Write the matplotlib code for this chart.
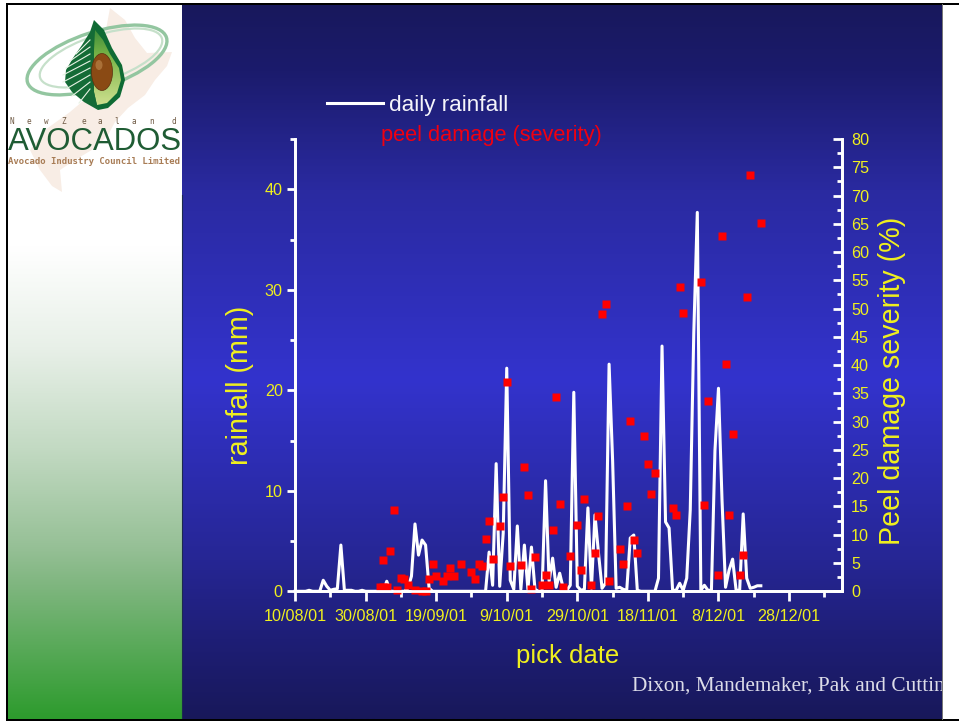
import numpy as np
import matplotlib
matplotlib.use('Agg')
import matplotlib.pyplot as plt
from matplotlib.colors import LinearSegmentedColormap
from matplotlib.patches import Ellipse, Polygon, Rectangle
from matplotlib.ticker import MultipleLocator

plt.rcParams['font.family'] = ['Liberation Sans', 'DejaVu Sans']

W, H = 959, 721
YELLOW = '#f0f01e'

# daily rainfall (mm), one value per day starting 10/08/01
rain_mm = [0, 0, 0, 0, 0.1, 0, 0, 0, 1.1, 0.5, 0.1, 0.2, 0.25, 4.6, 0.1, 0.1, 0.1, 0, 0, 0.1,
           0, 0, 0, 0, 0, 0, 1.0, 0, 0, 0, 0, 0, 0.3, 1.5, 6.7, 3.6, 5.1, 4.6, 0.3, 0,
           0, 0, 0, 0, 0, 0, 0, 0, 0, 0, 0, 0, 0, 0, 0, 3.9, 0.6, 12.7, 0.5, 5.8,
           22.2, 1.1, 0.2, 6.5, 0.2, 4.6, 0.2, 4.4, 0.2, 0, 0, 11.0, 1.0, 3.3, 0.4, 1.8, 0.3, 0.1, 0.6, 19.8,
           0.5, 0.1, 0.2, 8.3, 0.3, 7.6, 3.8, 0.3, 0.8, 22.6, 13.0, 0.3, 0.4, 0.2, 0.1, 5.3, 5.6, 0.1, 0, 0,
           0, 0, 0, 1.3, 24.4, 6.9, 6.3, 0.1, 0.1, 0.8, 0.1, 1.3, 8.1, 25.7, 37.7, 0.1, 0.6, 0.1, 0.1, 14.0,
           20.2, 9.1, 0.4, 2.1, 3.2, 0.1, 0.1, 7.7, 1.3, 0.3, 0.4, 0.55, 0.55]

# peel damage samples: pick day (days after 10/08/01) and severity (%)
peel_day = [24, 25, 26, 25, 27, 28, 29, 30, 31, 32, 34, 36, 37, 38, 39, 40, 42, 43, 44, 45, 47,
            50, 51, 52, 53, 54, 55, 56, 58, 59, 60, 61, 64, 65, 66, 67, 68, 70, 71, 72, 73, 74,
            75, 76, 78, 80, 81, 82, 84, 85, 86, 87, 88, 89, 92, 93, 94, 95, 96, 97, 99, 100,
            101, 102, 107, 108, 109, 110, 115, 116, 117, 120, 121, 122, 123, 124, 126, 127,
            128, 129, 132]
peel_pct = [0.8, 0.8, 0.8, 5.5, 7.2, 14.4, 0.3, 2.4, 2.1, 1.2, 0.3, 0, 0, 2.1, 4.8, 2.7, 1.9, 2.7,
            4.2, 2.7, 4.8, 3.4, 2.1, 4.8, 4.5, 9.2, 12.4, 5.8, 11.5, 16.6, 37.1, 4.4, 4.7, 21.9,
            17.1, 0.4, 6.1, 1.2, 2.9, 1.1, 10.8, 34.3, 15.4, 0.8, 6.2, 11.8, 3.7, 16.4, 1.2, 6.7,
            13.3, 49.0, 50.9, 1.9, 7.4, 4.8, 15.0, 30.1, 9.0, 6.7, 27.4, 22.6, 17.2, 21.0, 14.7,
            13.5, 53.8, 49.3, 54.7, 15.3, 33.7, 2.8, 62.8, 40.2, 13.5, 27.8, 2.9, 6.4, 52.0, 73.6,
            65.1]

date_labels = ['10/08/01', '30/08/01', '19/09/01', '9/10/01', '29/10/01', '18/11/01', '8/12/01', '28/12/01']


def px_gradient(stops):
    # stops = (pixel row, rgb)
    span = stops[-1][0] - stops[0][0]
    return LinearSegmentedColormap.from_list(
        'g', [((y - stops[0][0]) / span, np.array(c) / 255) for y, c in stops], N=512)


fig = plt.figure(figsize=(W / 100, H / 100), dpi=100, facecolor='white')

# slide background, drawn in pixel coordinates
bg = fig.add_axes([0, 0, 1, 1])
grad = np.linspace(0, 1, 512).reshape(-1, 1)
blue = px_gradient([(4, (24, 24, 92)), (70, (27, 27, 108)), (190, (42, 42, 160)), (380, (51, 51, 205)),
                    (560, (38, 38, 148)), (640, (30, 30, 118)), (719, (24, 24, 90))])
green = px_gradient([(4, (255, 255, 255)), (247, (255, 255, 255)), (347, (232, 240, 232)),
                     (447, (195, 218, 195)), (547, (150, 192, 150)), (580, (130, 183, 130)),
                     (718, (45, 155, 45))])
bg.imshow(grad, cmap=blue, extent=(182, 943, 719, 4), aspect='auto', zorder=1)
bg.imshow(grad, cmap=green, extent=(8, 182, 719, 4), aspect='auto', zorder=1)
flesh = px_gradient([(20, (40, 125, 55)), (55, (120, 180, 70)), (110, (215, 228, 150))])
flesh_img = bg.imshow(grad, cmap=flesh, extent=(90, 126, 110, 20), aspect='auto', zorder=3)
bg.set_xlim(0, W)
bg.set_ylim(H, 0)
bg.axis('off')
bg.add_patch(Rectangle((6, 3), W - 6, 2, color='black', zorder=5, lw=0))
bg.add_patch(Rectangle((6, 3), 2, H - 3, color='black', zorder=5, lw=0))
bg.add_patch(Rectangle((6, 719), W - 6, 2, color='black', zorder=5, lw=0))
bg.add_patch(Rectangle((942, 4), 1.2, 716, color='#777777', zorder=5, lw=0))
bg.plot([182, 182], [195, 719], color='#1c2a50', lw=0.8, zorder=4)

# logo: NZ map, rings, avocado with fern leaf
nz = [(110, 8), (125, 20), (135, 38), (147, 53), (172, 52), (167, 66), (155, 80), (145, 95), (128, 108),
      (115, 122), (108, 135), (95, 148), (75, 160), (60, 170), (62, 192), (52, 186), (40, 170), (30, 150),
      (45, 130), (70, 112), (90, 95), (102, 75), (115, 55), (105, 35)]
bg.add_patch(Polygon(nz, closed=True, fc='#f8ede5', ec='none', zorder=2))
bg.add_patch(Ellipse((97, 60), 146, 56, angle=-18, fc='none', ec='#93c6a0', lw=2.4, zorder=2.5))
bg.add_patch(Ellipse((101, 58), 128, 46, angle=-18, fc='none', ec='#c6e0ca', lw=1.6, zorder=2.5))

avocado = [(94, 20), (104, 30), (112, 48), (122, 65), (125, 80), (120, 97), (108, 108), (98, 110), (92, 100), (92, 60)]
bg.add_patch(Polygon(avocado, closed=True, fc='#0f6b34', ec='none', zorder=2.8))
avo_in = Polygon([(95, 30), (103, 40), (110, 54), (119, 68), (121, 80), (117, 93), (107, 103), (97, 105), (94, 92), (94, 50)],
                 closed=True, transform=bg.transData)
flesh_img.set_clip_path(avo_in)
bg.add_patch(Ellipse((102, 72), 21, 37, fc='#8a4a14', ec='#5a3010', lw=0.5, zorder=3.2))
bg.add_patch(Ellipse((99, 65), 7, 10, fc='#c08a50', ec='none', alpha=0.6, zorder=3.2))

# fern half of the logo, dark shape with pale cuts
fern = [(94, 20), (90, 32), (82, 45), (73, 58), (66, 70), (65, 82), (72, 92), (84, 102), (98, 110), (94, 92), (94, 50)]
bg.add_patch(Polygon(fern, closed=True, fc='#146b36', ec='none', zorder=3))
cut_y = [48, 55, 62, 69, 76, 83, 90, 97]
cut_x = [76, 70, 66, 63, 63, 66, 72, 79]
for cy, cx in zip(cut_y, cut_x):
    bg.plot([cx, 90], [cy + 6, cy - 8], color='#e8f2e4', lw=0.8, zorder=3.1)

for ch, x in zip('NewZealand', [12, 29, 46, 64, 84, 100, 117, 134, 152, 174]):
    bg.text(x, 121, ch, fontsize=5.5, family='DejaVu Sans Mono', color='#6f5a44', ha='center', va='center', zorder=3)
bg.text(95, 142.5, 'AVOCADOS', fontsize=22.4, color='#1f5c34', ha='center', va='center', zorder=3)
bg.text(94, 162, 'Avocado Industry Council Limited', fontsize=6.5, family='DejaVu Sans Mono',
        weight='bold', color='#a87c55', ha='center', va='center', zorder=3)

# credit runs off the blue panel and gets cut at its edge
credit = bg.text(632, 686.5, 'Dixon, Mandemaker, Pak and Cutting', fontsize=15.3, family='Liberation Serif',
                 color='#dcdce8', ha='left', va='center', zorder=3)
credit.set_clip_on(True)
credit.set_clip_path(Rectangle((182, 4), 760, 715, transform=bg.transData))

# chart axes
left, right = 295, 842
top, bottom = 139, 591.3
ax = fig.add_axes([left / W, 1 - bottom / H, (right - left) / W, (bottom - top) / H])
ax.patch.set_alpha(0)
ax2 = ax.twinx()
ax2.patch.set_alpha(0)

days = np.arange(len(rain_mm))
ax.plot(days, rain_mm, color='white', lw=2.2, solid_joinstyle='round', clip_on=False)
ax2.plot(peel_day, peel_pct, ls='none', marker='s', ms=6.4, mfc='#ff0000', mec='none', clip_on=False)

ax.set_xlim(0, 155)
ax.set_ylim(0, 45)
ax2.set_ylim(0, 80)

ax.xaxis.set_major_locator(MultipleLocator(20))
ax.xaxis.set_minor_locator(MultipleLocator(10))
ax.set_xticks(np.arange(0, 160, 20)[:len(date_labels)])
ax.set_xticklabels(date_labels)
ax.yaxis.set_major_locator(MultipleLocator(10))
ax.yaxis.set_minor_locator(MultipleLocator(5))
ax2.yaxis.set_major_locator(MultipleLocator(5))
ax2.yaxis.set_minor_locator(MultipleLocator(2.5))

for a in (ax, ax2):
    a.spines['top'].set_visible(False)
    for s in ('left', 'right', 'bottom'):
        a.spines[s].set_color('white')
        a.spines[s].set_linewidth(2)

ax.tick_params(axis='x', which='major', length=7, width=2, color='white', labelcolor=YELLOW, labelsize=11.6, pad=5.5)
ax.tick_params(axis='x', which='minor', length=4.2, width=2, color='white')
ax.tick_params(axis='y', which='major', length=5.8, width=2, color='white', labelcolor=YELLOW, labelsize=11.6, pad=3)
ax.tick_params(axis='y', which='minor', length=3.6, width=2, color='white')
ax2.tick_params(axis='y', which='major', direction='in', length=6.5, width=2, color='white', labelcolor=YELLOW,
                labelsize=11.6, pad=6.5)
ax2.tick_params(axis='y', which='minor', direction='in', length=3.6, width=2, color='white')

fig.text(240 / W, 1 - 385 / H, 'rainfall (mm)', color=YELLOW, fontsize=20.7, rotation=90, ha='center', va='center')
fig.text(892 / W, 1 - 381 / H, 'Peel damage severity (%)', color=YELLOW, fontsize=20.6, rotation=90,
         ha='center', va='center')
fig.text(568 / W, 1 - 656 / H, 'pick date', color=YELLOW, fontsize=18.5, ha='center', va='center')

# legend placed by hand like the slide
bg.plot([327, 383], [103.3, 103.3], color='white', lw=2.2, zorder=3)
bg.text(389, 106, 'daily rainfall', color='#f4f4fa', fontsize=16.2, ha='left', va='center', zorder=3)
bg.text(381, 136, 'peel damage (severity)', color='#f00010', fontsize=15.7, ha='left', va='center', zorder=3)

fig.savefig('out.png', dpi=100, facecolor='white')
